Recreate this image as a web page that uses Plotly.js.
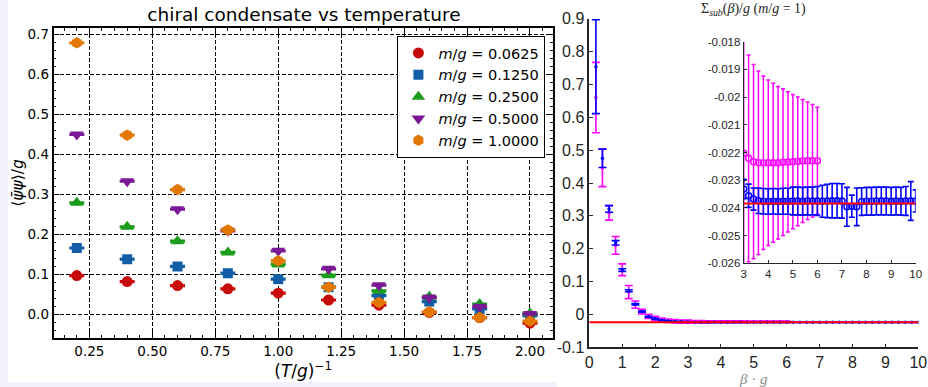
<!DOCTYPE html>
<html>
<head>
<meta charset="utf-8">
<script src="https://cdn.plot.ly/plotly-3.0.1.min.js"></script>
<style>html,body{margin:0;padding:0;background:#fff;}#chart{width:928px;height:387px;}</style>
</head>
<body>
<div id="chart"></div>
<script>
// ---------- left chart data ----------
const tInv = [0.2, 0.4, 0.6, 0.8, 1.0, 1.2, 1.4, 1.6, 1.8, 2.0];
const massLabels = ['0.0625', '0.1250', '0.2500', '0.5000', '1.0000'];
const cond0625 = [0.097, 0.082, 0.072, 0.064, 0.053, 0.036, 0.023, 0.005, -0.008, -0.022];
const cond1250 = [0.166, 0.138, 0.120, 0.103, 0.088, 0.068, 0.047, 0.032, 0.014, -0.004];
const cond2500 = [0.279, 0.219, 0.183, 0.155, 0.125, 0.098, 0.059, 0.044, 0.026, 0.003];
const cond5000 = [0.450, 0.333, 0.263, 0.209, 0.159, 0.114, 0.073, 0.042, 0.019, 0.001];
const cond10000 = [0.679, 0.448, 0.312, 0.211, 0.134, 0.068, 0.030, 0.006, -0.008, -0.017];
const condErr = [0.002, 0.002, 0.002, 0.002, 0.002, 0.002, 0.002, 0.002, 0.002, 0.002];

// ---------- right chart data ----------
const betaBlue = [0.2, 0.4, 0.6, 0.8, 1.0, 1.2, 1.4, 1.6, 1.8, 2.0,
  2.2, 2.4, 2.6, 2.8,
  3.0, 3.2, 3.4, 3.6, 3.8, 4.0, 4.2, 4.4, 4.6, 4.8,
  5.0, 5.2, 5.4, 5.6, 5.8, 6.0, 6.2, 6.4, 6.6, 6.8,
  7.0, 7.2, 7.4, 7.6, 7.8, 8.0, 8.2, 8.4, 8.6, 8.8,
  9.0, 9.2, 9.4, 9.6, 9.8, 10.0];
const sigmaBlue = [0.754, 0.475, 0.321, 0.218, 0.135, 0.072, 0.031, 0.0085, -0.007, -0.013,
  -0.0175, -0.0200, -0.0215, -0.0226,
  -0.02332, -0.02356, -0.02368, -0.02374, -0.02376, -0.02377, -0.02376, -0.02377, -0.02376, -0.02376,
  -0.02375, -0.02375, -0.02376, -0.02375, -0.02375, -0.02375, -0.02376, -0.02375, -0.02374, -0.02374,
  -0.02375, -0.02396, -0.02394, -0.02396, -0.02377, -0.02376, -0.02376, -0.02375, -0.02375, -0.02375,
  -0.02376, -0.02375, -0.02376, -0.02375, -0.02375, -0.02375];
const errBlue = [0.143, 0.028, 0.010, 0.0066, 0.004, 0.003, 0.0025, 0.002, 0.0015, 0.0012,
  0.001, 0.0009, 0.0008, 0.0007,
  0.00035, 0.00042, 0.00040, 0.00046, 0.00046, 0.00046, 0.00046, 0.00046, 0.00047, 0.00047,
  0.00050, 0.00050, 0.00050, 0.00050, 0.00050, 0.00052, 0.00058, 0.00060, 0.00062, 0.00062,
  0.00062, 0.00070, 0.00040, 0.00068, 0.00050, 0.00050, 0.00050, 0.00050, 0.00050, 0.00050,
  0.00050, 0.00050, 0.00050, 0.00052, 0.00070, 0.00040];
const betaMagenta = [0.2, 0.4, 0.6, 0.8, 1.0, 1.2, 1.4, 1.6, 1.8, 2.0,
  2.2, 2.4, 2.6, 2.8,
  3.0, 3.2, 3.4, 3.6, 3.8, 4.0, 4.2, 4.4, 4.6, 4.8,
  5.0, 5.2, 5.4, 5.6, 5.8, 6.0];
const sigmaMagenta = [0.660, 0.446, 0.309, 0.210, 0.136, 0.068, 0.030, 0.0085, -0.006, -0.012,
  -0.0165, -0.0192, -0.0208, -0.0216,
  -0.02203, -0.02221, -0.02233, -0.02237, -0.02237, -0.02237, -0.02237, -0.02237, -0.02235, -0.02234,
  -0.02233, -0.02232, -0.02231, -0.02230, -0.02230, -0.02230];
const errMagenta = [0.107, 0.057, 0.022, 0.027, 0.018, 0.020, 0.011, 0.007, 0.0065, 0.006,
  0.0058, 0.0055, 0.0052, 0.0049,
  0.0046, 0.00373, 0.00351, 0.00331, 0.00313, 0.00299, 0.00287, 0.00275, 0.00265, 0.00253,
  0.00242, 0.00232, 0.00222, 0.00212, 0.00203, 0.00193];
const limitBeta = [0, 10];
const limitSigma = [-0.02384, -0.02384];

// tick labels
const mainXTicks = [0, 1, 2, 3, 4, 5, 6, 7, 8, 9, 10];
const mainXTickText = ['0', '1', '2', '3', '4', '5', '6', '7', '8', '9', '10'];
const mainYTicks = [-0.1, 0, 0.1, 0.2, 0.3, 0.4, 0.5, 0.6, 0.7, 0.8, 0.9];
const mainYTickText = ['-0.1', '0', '0.1', '0.2', '0.3', '0.4', '0.5', '0.6', '0.7', '0.8', '0.9'];
const insetXTicks = [3, 4, 5, 6, 7, 8, 9, 10];
const insetXTickText = ['3', '4', '5', '6', '7', '8', '9', '10'];
const insetYTicks = [-0.026, -0.025, -0.024, -0.023, -0.022, -0.021, -0.02, -0.019, -0.018];
const insetYTickText = ['-0.026', '-0.025', '-0.024', '-0.023', '-0.022', '-0.021', '-0.02', '-0.019', '-0.018'];

// ---------- build ----------
const W = 928, H = 387;
const px = v => v / W;
const py = v => 1 - v / H;

const leftSeries = [cond0625, cond1250, cond2500, cond5000, cond10000];
const leftColors = ['#c80a0a', '#115ea6', '#1c9c1c', '#7a1896', '#e37800'];
const leftSymbols = ['circle', 'square', 'triangle-up', 'triangle-down', 'hexagon'];
const leftSizes = [11, 10, 12, 12, 11.5];

const traces = [];
leftSeries.forEach((ys, i) => {
  traces.push({
    type: 'scatter', mode: 'markers', x: tInv, y: ys,
    xaxis: 'x', yaxis: 'y',
    name: '<i>m</i>/<i>g</i> = ' + massLabels[i],
    marker: {color: leftColors[i], size: leftSizes[i], symbol: leftSymbols[i], line: {width: 0}},
    error_y: {type: 'data', array: condErr, visible: true, color: leftColors[i], thickness: 1.6, width: 7.5}
  });
});

// main right
traces.push({
  type: 'scatter', mode: 'markers', x: betaMagenta, y: sigmaMagenta, xaxis: 'x2', yaxis: 'y2',
  showlegend: false, marker: {color: '#ff00ff', size: 3.5},
  error_y: {type: 'data', array: errMagenta, visible: true, color: '#ff00ff', thickness: 1.6, width: 4}
});
traces.push({
  type: 'scatter', mode: 'markers', x: betaBlue, y: sigmaBlue, xaxis: 'x2', yaxis: 'y2',
  showlegend: false, marker: {color: '#0000ff', size: 3.5},
  error_y: {type: 'data', array: errBlue, visible: true, color: '#0000ff', thickness: 1.6, width: 4}
});
traces.push({
  type: 'scatter', mode: 'lines', x: limitBeta, y: limitSigma, xaxis: 'x2', yaxis: 'y2',
  showlegend: false, line: {color: '#ff0000', width: 2}
});
// inset
traces.push({
  type: 'scatter', mode: 'markers', x: betaMagenta, y: sigmaMagenta, xaxis: 'x3', yaxis: 'y3',
  showlegend: false, marker: {color: '#ff00ff', size: 6, symbol: 'circle-open', line: {width: 1.5, color: '#ff00ff'}},
  error_y: {type: 'data', array: errMagenta, visible: true, color: '#ff00ff', thickness: 1.5, width: 2}
});
traces.push({
  type: 'scatter', mode: 'markers', x: betaBlue, y: sigmaBlue, xaxis: 'x3', yaxis: 'y3',
  showlegend: false, marker: {color: '#0000ff', size: 6, symbol: 'circle-open', line: {width: 1.5, color: '#0000ff'}},
  error_y: {type: 'data', array: errBlue, visible: true, color: '#0000ff', thickness: 1.6, width: 3}
});
traces.push({
  type: 'scatter', mode: 'lines', x: limitBeta, y: limitSigma, xaxis: 'x3', yaxis: 'y3',
  showlegend: false, line: {color: '#ff0000', width: 2}
});

const dj = 'DejaVu Sans';
const lib = 'Liberation Sans, Arial, sans-serif';
const serif = 'Liberation Serif, DejaVu Serif, serif';
const dark = '#262626';

const layout = {
  width: W, height: H,
  margin: {l: 0, r: 0, t: 0, b: 0, pad: 0},
  paper_bgcolor: '#ffffff', plot_bgcolor: 'rgba(0,0,0,0)',
  showlegend: true,
  title: {text: 'chiral condensate vs temperature', font: {family: dj, size: 18.5, color: '#000'},
    x: px(304), xanchor: 'center', xref: 'paper', y: py(15), yanchor: 'middle', yref: 'paper'},
  xaxis: {
    domain: [px(53.5), px(552.8)], range: [0.1074, 2.0906], anchor: 'y',
    tick0: 0, dtick: 0.25, tickformat: '.2f',
    ticks: 'inside', ticklen: 6, tickwidth: 1.2, tickcolor: '#000',
    minor: {dtick: 0.05, tick0: 0, ticks: 'inside', ticklen: 3, tickwidth: 1, tickcolor: '#000', showgrid: false},
    showline: true, linecolor: '#000', linewidth: 1.6, mirror: 'ticks',
    showgrid: true, gridcolor: '#000', gridwidth: 1, griddash: '4px,2px',
    zeroline: false,
    tickfont: {family: dj, size: 13.5, color: '#000'},
    title: {text: '(<i>T</i>/<i>g</i>)<sup>\u22121</sup>', font: {family: dj, size: 17, color: '#000'}, standoff: 0}
  },
  yaxis: {
    domain: [py(338), py(28)], range: [-0.059, 0.716], anchor: 'x',
    tick0: 0, dtick: 0.1, tickformat: '.1f',
    ticks: 'inside', ticklen: 6, tickwidth: 1.2, tickcolor: '#000',
    minor: {dtick: 0.02, tick0: 0, ticks: 'inside', ticklen: 3, tickwidth: 1, tickcolor: '#000', showgrid: false},
    showline: true, linecolor: '#000', linewidth: 1.6, mirror: 'ticks',
    showgrid: true, gridcolor: '#000', gridwidth: 1, griddash: '4px,2px',
    zeroline: false,
    tickfont: {family: dj, size: 13.5, color: '#000'},
    title: {text: '\u27e8<i>\u03c8\u0304\u03c8</i>\u27e9/<i>g</i>', font: {family: dj, size: 15.5, color: '#000'}, standoff: 0}
  },
  xaxis2: {
    domain: [px(589.3), px(918.3)], range: [0, 10], anchor: 'y2',
    tickvals: mainXTicks, ticktext: mainXTickText,
    ticks: 'inside', ticklen: 4, tickwidth: 1, tickcolor: dark,
    showline: true, linecolor: dark, linewidth: 1.5, mirror: false,
    showgrid: false, zeroline: false,
    tickfont: {family: lib, size: 16, color: dark},
    title: {text: '<i>\u03b2</i> \u00b7 <i>g</i>', font: {family: serif, size: 15, color: '#8c8c8c'}, standoff: 0}
  },
  yaxis2: {
    domain: [py(347.3), py(18.7)], range: [-0.1, 0.9], anchor: 'x2',
    tickvals: mainYTicks, ticktext: mainYTickText,
    ticks: 'inside', ticklen: 4, tickwidth: 1, tickcolor: dark,
    showline: true, linecolor: dark, linewidth: 1.5, mirror: false,
    showgrid: false, zeroline: false,
    tickfont: {family: lib, size: 16, color: dark}
  },
  xaxis3: {
    domain: [px(743.7), px(915.7)], range: [3, 10], anchor: 'y3',
    tickvals: insetXTicks, ticktext: insetXTickText,
    ticks: 'inside', ticklen: 3, tickwidth: 1, tickcolor: dark,
    showline: true, linecolor: dark, linewidth: 1, mirror: false,
    showgrid: false, zeroline: false,
    tickfont: {family: lib, size: 11.5, color: dark}
  },
  yaxis3: {
    domain: [py(263.3), py(41.7)], range: [-0.026, -0.018], anchor: 'x3',
    tickvals: insetYTicks, ticktext: insetYTickText,
    ticks: 'inside', ticklen: 3, tickwidth: 1, tickcolor: dark,
    showline: true, linecolor: dark, linewidth: 1, mirror: false,
    showgrid: false, zeroline: false,
    tickfont: {family: lib, size: 11.5, color: dark}
  },
  legend: {
    x: px(545.4), xanchor: 'right', y: py(36), yanchor: 'top', xref: 'paper', yref: 'paper',
    bgcolor: '#ffffff', bordercolor: '#000', borderwidth: 1,
    font: {family: dj, size: 14.5, color: '#000'},
    itemwidth: 30
  },
  annotations: [{
    text: '\u03a3<sub><i>sub</i></sub>(<i>\u03b2</i>)/<i>g</i> (<i>m</i>/<i>g</i> = 1)',
    xref: 'paper', yref: 'paper', x: px(753), y: py(9), xanchor: 'center', yanchor: 'middle',
    showarrow: false, font: {family: serif, size: 14, color: dark}
  }],
  shapes: [
    {type: 'rect', xref: 'paper', yref: 'paper', x0: 0, x1: px(8), y0: 0, y1: 1, layer: 'below',
      fillcolor: '#f2f2fc', line: {width: 0}},
    {type: 'rect', xref: 'paper', yref: 'paper', x0: 0, x1: px(557), y0: 0, y1: 5 / H, layer: 'below',
      fillcolor: '#f2f2fc', line: {width: 0}}
  ]
};

Plotly.newPlot('chart', traces, layout, {displayModeBar: false, responsive: false});
</script>
</body>
</html>
